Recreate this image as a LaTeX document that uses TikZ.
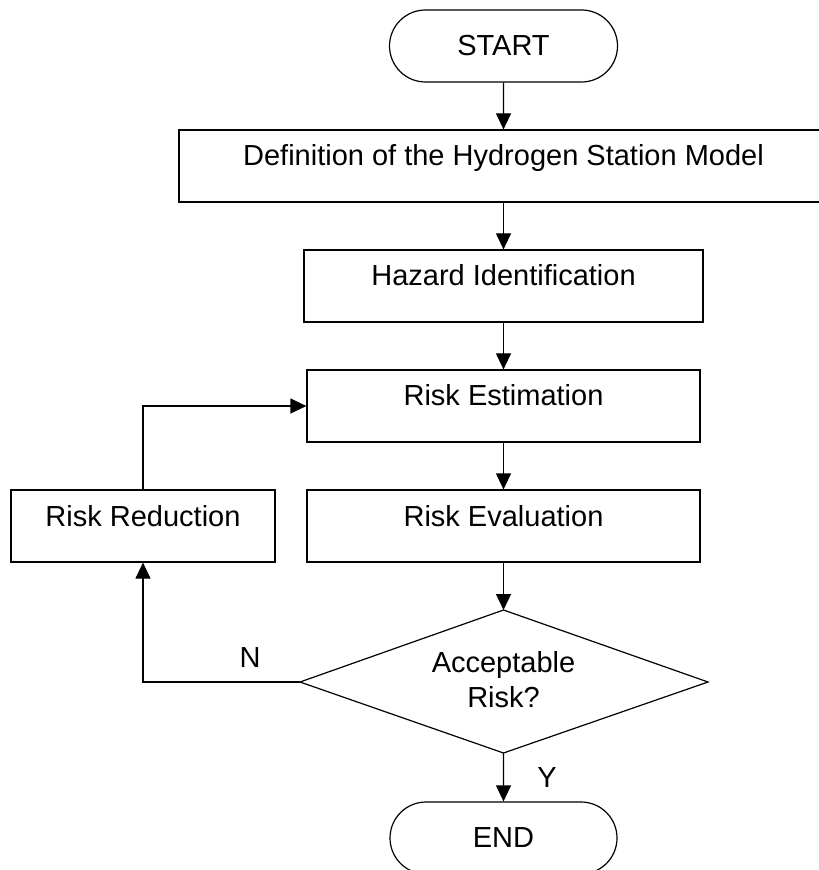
\documentclass[tikz,border=0pt]{standalone}
\usepackage{fontspec}
\setmainfont{Liberation Sans}
\usetikzlibrary{shapes.misc,arrows.meta}
\begin{document}
\begin{tikzpicture}[x=0.5pt,y=-0.5pt,
  every node/.style={font=\fontsize{14.5}{17.5}\selectfont, inner sep=0pt},
  stepbox/.style={draw, rectangle, line width=0.6pt, minimum height=36pt, text height=8pt, text depth=8pt},
  termbox/.style={draw, rounded rectangle, line width=0.6pt, minimum width=114pt, minimum height=36pt},
  outline/.style={line width=0.6pt},
  conn/.style={line width=0.6pt, -{Triangle[length=8pt,width=7.5pt]}}]
\useasboundingbox (0,0) rectangle (818,870);
\node[termbox] (start) at (503.5,46) {START};
\node[stepbox, minimum width=324.5pt] (def) at (503.5,166) {Definition of the Hydrogen Station Model};
\node[stepbox, minimum width=199.5pt] (haz) at (503.5,286) {Hazard Identification};
\node[stepbox, minimum width=196.5pt] (est) at (503.5,406) {Risk Estimation};
\node[stepbox, minimum width=196.5pt] (eva) at (503.5,526) {Risk Evaluation};
\node[stepbox, minimum width=132pt] (red) at (143,526) {Risk Reduction};
\coordinate (dtop) at (503.5,610);
\coordinate (dright) at (708,682);
\coordinate (dbot) at (503.5,753);
\coordinate (dleft) at (300,682);
\draw[outline] (dtop) -- (dright) -- (dbot) -- (dleft) -- cycle;
\node[align=center] (dec) at (503.5,680) {Acceptable\\Risk?};
\node[termbox, minimum width=113.5pt] (end) at (503.5,838) {END};
\node (nlab) at (250,658) {N};
\node (ylab) at (547,778) {Y};
\draw[conn] (start) -- (def);
\draw[conn] (def) -- (haz);
\draw[conn] (haz) -- (est);
\draw[conn] (est) -- (eva);
\draw[conn] (eva) -- (dtop);
\draw[conn] (dbot) -- (end);
\draw[conn] (dleft) -| (red.south);
\draw[conn] (red.north) |- (est.west);
\end{tikzpicture}
\end{document}
